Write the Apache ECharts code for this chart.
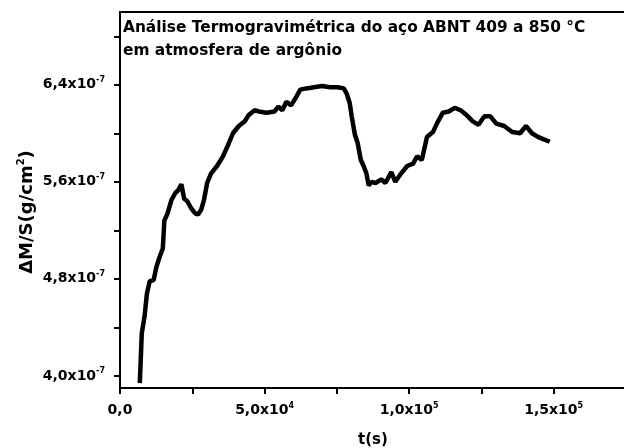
<!DOCTYPE html>
<html>
<head>
<meta charset="utf-8">
<title>TGA aço ABNT 409</title>
<script src="https://cdn.jsdelivr.net/npm/echarts@6/dist/echarts.min.js"></script>
<style>
  html, body { margin: 0; padding: 0; background: #fff; }
  #main { width: 624px; height: 448px; }
</style>
</head>
<body>
<div id="main"></div>
<script>
// tempo (s)
const tempo = [
  6850, 7530, 8490, 9315, 10270, 11640, 12600, 13700, 14800, 15340,
  16440, 17800, 19180, 20140, 21230, 22190, 23290, 24660, 26030, 26990,
  28080, 29040, 30140, 31510, 33560, 35620, 37670, 39040, 41100, 43150,
  44520, 46580, 47950, 50680, 53420, 54800, 56160, 57530, 59180, 60960,
  62330, 64380, 67120, 69860, 72600, 75340, 77400, 78360, 79450, 80140,
  81230, 82190, 83290, 84250, 85210, 86030, 86990, 88360, 90410, 91780,
  93840, 95210, 97260, 99320, 101370, 102740, 104380, 106160, 108220, 109590,
  111640, 113700, 115750, 117810, 119860, 121920, 123970, 126030, 128080, 130140,
  132880, 135620, 138360, 140410, 142470, 144520, 146580, 148630
]
// ΔM/S em unidades de 1e-7 g/cm²
const massa = [
  3.94, 4.35, 4.49, 4.68, 4.78, 4.79, 4.90, 4.98, 5.05, 5.28,
  5.34, 5.45, 5.51, 5.53, 5.58, 5.46, 5.44, 5.38, 5.34, 5.33,
  5.37, 5.45, 5.59, 5.67, 5.73, 5.81, 5.92, 6.00, 6.06, 6.10,
  6.15, 6.19, 6.18, 6.17, 6.18, 6.22, 6.19, 6.26, 6.23, 6.30,
  6.36, 6.37, 6.38, 6.39, 6.38, 6.38, 6.37, 6.33, 6.25, 6.14,
  5.99, 5.92, 5.78, 5.73, 5.67, 5.57, 5.60, 5.59, 5.62, 5.59,
  5.68, 5.60, 5.67, 5.73, 5.75, 5.81, 5.78, 5.97, 6.01, 6.08,
  6.17, 6.18, 6.21, 6.19, 6.15, 6.10, 6.07, 6.14, 6.14, 6.08,
  6.06, 6.01, 6.00, 6.06, 6.00, 5.97, 5.95, 5.93
]
const yTicks = [4.0, 4.4, 4.8, 5.2, 5.6, 6.0, 6.4, 6.8]
const yLabels = [4.0, 4.8, 5.6, 6.4]
const xLabels = { 0: '0,0', 50000: '5,0x10|4', 100000: '1,0x10|5', 150000: '1,5x10|5' }

const font = 'DejaVu Sans'
const supText = (s) => {
  const parts = s.split('|')
  if (parts.length === 1) return '{b|' + parts[0] + '}'
  return '{b|' + parts[0] + '}{s|' + parts[1] + '}'
}
const labelRich = {
  b: { fontFamily: font, fontWeight: 'bold', fontSize: 14, color: '#000', lineHeight: 17 },
  s: { fontFamily: font, fontWeight: 'bold', fontSize: 8, color: '#000', verticalAlign: 'top', lineHeight: 8 }
}

const chart = echarts.init(document.getElementById('main'))
chart.setOption({
  animation: false,
  backgroundColor: '#fff',
  title: {
    text: 'Análise Termogravimétrica do aço ABNT 409 a 850 °C\nem atmosfera de argônio',
    left: 118,
    top: 11,
    textStyle: { fontFamily: font, fontWeight: 'bold', fontSize: 15.4, color: '#000', lineHeight: 23 }
  },
  grid: {
    left: 120, top: 12, width: 506, height: 376,
    outerBoundsMode: 'none',
    show: true, borderColor: '#000', borderWidth: 2
  },
  xAxis: {
    type: 'value',
    min: 0, max: 175000, interval: 25000,
    splitLine: { show: false },
    axisLine: { lineStyle: { color: '#000', width: 2 } },
    axisTick: { length: 6, lineStyle: { color: '#000', width: 2 } },
    axisLabel: {
      margin: 14,
      formatter: (v) => (xLabels[v] !== undefined ? supText(xLabels[v]) : ''),
      rich: labelRich
    },
    name: 't(s)',
    nameLocation: 'middle',
    nameGap: 45,
    nameTextStyle: { fontFamily: font, fontWeight: 'bold', fontSize: 15, color: '#000' }
  },
  yAxis: {
    type: 'value',
    min: 3.9, max: 7.0,
    splitLine: { show: false },
    axisLine: { lineStyle: { color: '#000', width: 2 } },
    axisTick: { length: 6, customValues: yTicks, lineStyle: { color: '#000', width: 2 } },
    axisLabel: {
      margin: 15,
      customValues: yLabels,
      formatter: (v) => supText(v.toFixed(1).replace('.', ',') + 'x10|-7'),
      rich: labelRich
    }
  },
  graphic: [{
    type: 'text',
    x: 27, y: 212,
    rotation: Math.PI / 2,
    style: {
      text: '{b|ΔM/S(g/cm}{s|2}{b|)}',
      align: 'center',
      verticalAlign: 'middle',
      rich: {
        b: { fontFamily: font, fontWeight: 'bold', fontSize: 18, fill: '#000', lineHeight: 21 },
        s: { fontFamily: font, fontWeight: 'bold', fontSize: 10, fill: '#000', verticalAlign: 'top', lineHeight: 10 }
      }
    }
  }],
  series: [{
    type: 'line',
    data: tempo.map((t, i) => [t, massa[i]]),
    showSymbol: false,
    lineStyle: { color: '#000', width: 4.5 }
  }]
})
</script>
</body>
</html>
